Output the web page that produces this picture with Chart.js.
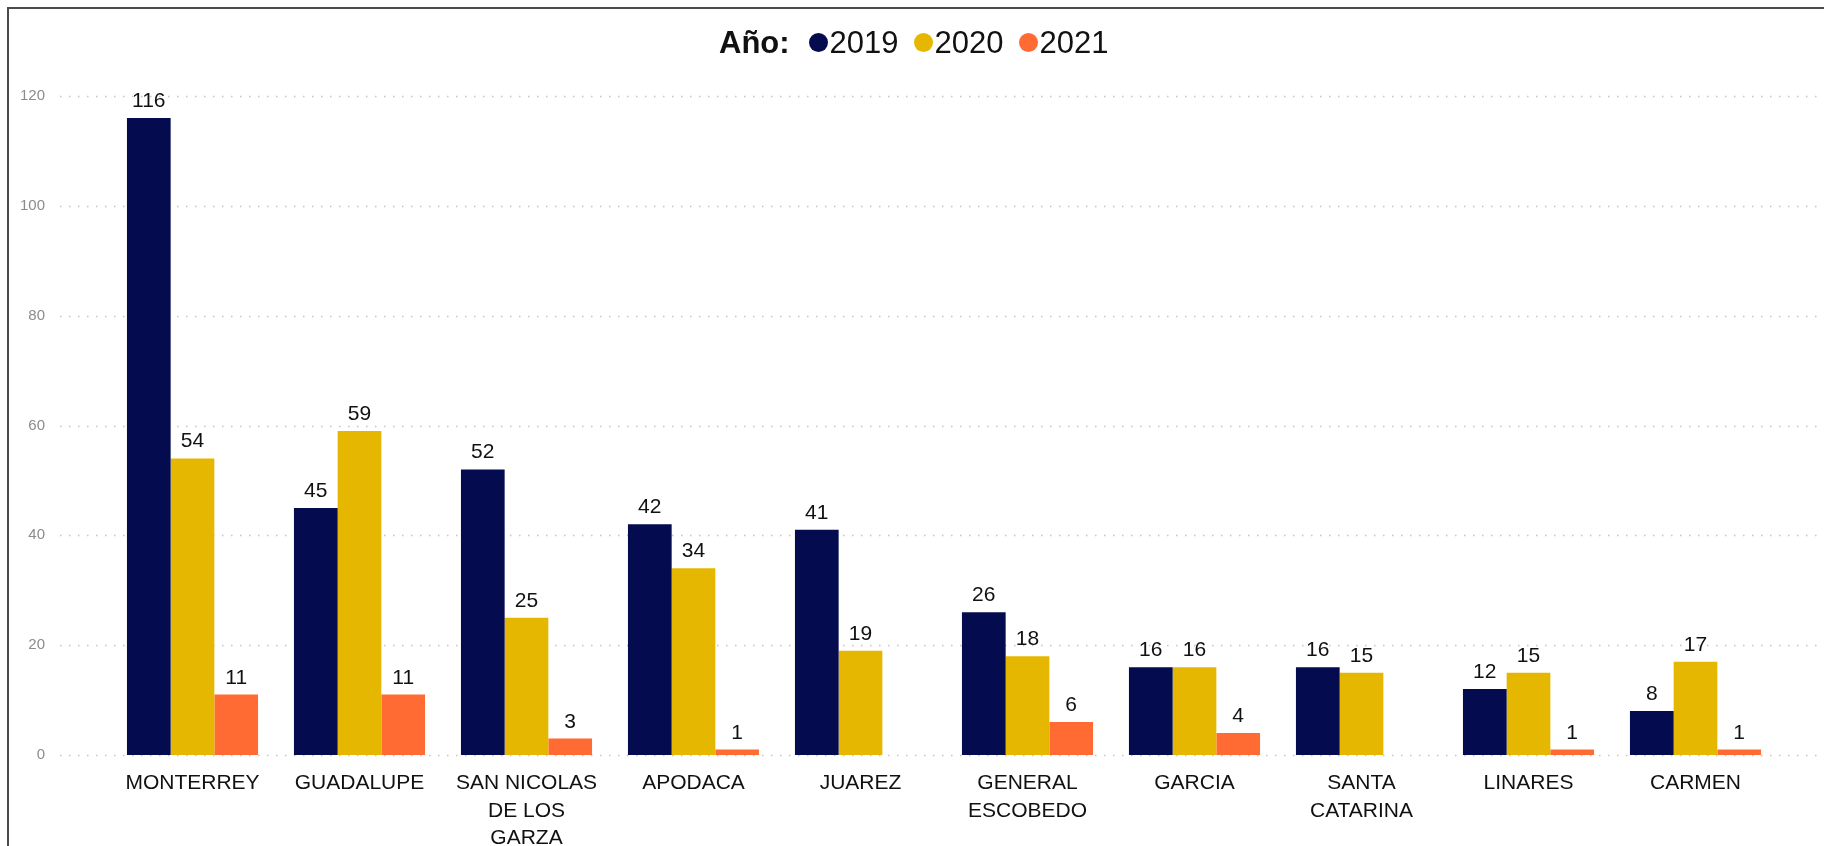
<!DOCTYPE html>
<html>
<head>
<meta charset="utf-8">
<script src="https://cdn.jsdelivr.net/npm/chart.js@4.4.1/dist/chart.umd.min.js"></script>
<style>
  html, body { margin: 0; padding: 0; background: #fff; overflow: hidden; }
  #frame { position: absolute; left: 7px; top: 7px; width: 1840px; height: 860px;
           border-top: 2px solid #4a4a4a; border-left: 2px solid #4a4a4a; }
  #wrap { position: absolute; left: 0; top: 0; width: 1824px; height: 846px; }
  #legend { position: absolute; left: 719px; top: 27px; height: 31px; display: flex; align-items: center;
            font-family: "Liberation Sans", Arial, sans-serif; font-size: 31px; color: #111; white-space: nowrap; }
  #legend b { margin-right: 19px; }
  #legend .dot { display: inline-block; width: 19px; height: 19px; border-radius: 50%; margin-right: 2px; }
  #legend .txt { margin-right: 15px; }
</style>
</head>
<body>
<div id="frame"></div>
<div id="wrap"><canvas id="barChart"></canvas></div>
<div id="legend"></div>
<script>
var municipios = ['MONTERREY', 'GUADALUPE', ['SAN NICOLAS', 'DE LOS', 'GARZA'], 'APODACA', 'JUAREZ',
    ['GENERAL', 'ESCOBEDO'], 'GARCIA', ['SANTA', 'CATARINA'], 'LINARES', 'CARMEN'];
var anios = ['2019', '2020', '2021'];
var datos2019 = [116, 45, 52, 42, 41, 26, 16, 16, 12, 8];
var datos2020 = [54, 59, 25, 34, 19, 18, 16, 15, 15, 17];
var datos2021 = [11, 11, 3, 1, null, 6, 4, null, 1, 1];
var colores = ['#040b4f', '#e6b700', '#ff6b33'];
var yTicks = [0, 20, 40, 60, 80, 100, 120];

var FONT = '"Liberation Sans", Arial, sans-serif';

// legend (title inline with items)
var legendHtml = '<b>Año:</b>';
anios.forEach(function (a, i) {
    legendHtml += '<span class="dot" style="background:' + colores[i] + '"></span><span class="txt">' + a + '</span>';
});
document.getElementById('legend').innerHTML = legendHtml;

// dotted gridlines, running wider than the plot area
var dottedGrid = {
    id: 'dottedGrid',
    beforeDatasetsDraw: function (chart) {
        var ctx = chart.ctx, y = chart.scales.y;
        ctx.save();
        ctx.strokeStyle = '#c4c4c4';
        ctx.lineWidth = 1.5;
        ctx.setLineDash([1.5, 7.5]);
        y.ticks.forEach(function (t) {
            var py = Math.round(y.getPixelForValue(t.value)) + 0.5;
            ctx.beginPath();
            ctx.moveTo(60, py);
            ctx.lineTo(chart.width, py);
            ctx.stroke();
        });
        ctx.restore();
    }
};

// value labels on top of the bars
var valueLabels = {
    id: 'valueLabels',
    afterDatasetsDraw: function (chart) {
        var ctx = chart.ctx;
        ctx.save();
        ctx.font = '21px ' + FONT;
        ctx.fillStyle = '#111';
        ctx.textAlign = 'center';
        ctx.textBaseline = 'alphabetic';
        chart.data.datasets.forEach(function (ds, i) {
            chart.getDatasetMeta(i).data.forEach(function (bar, j) {
                var v = ds.data[j];
                if (!v) return;
                ctx.fillText(v, bar.x, bar.y - 11);
            });
        });
        ctx.restore();
    }
};

new Chart(document.getElementById('barChart').getContext('2d'), {
    type: 'bar',
    data: {
        labels: municipios,
        datasets: [
            { label: anios[0], data: datos2019, backgroundColor: colores[0] },
            { label: anios[1], data: datos2020, backgroundColor: colores[1] },
            { label: anios[2], data: datos2021, backgroundColor: colores[2] }
        ]
    },
    options: {
        responsive: true,
        maintainAspectRatio: false,
        animation: false,
        layout: { padding: { top: 96, right: 45, bottom: 0, left: 0 } },
        datasets: { bar: { categoryPercentage: 0.785, barPercentage: 1 } },
        plugins: { legend: { display: false }, tooltip: { enabled: false } },
        scales: {
            x: {
                grid: { display: false, drawTicks: false },
                border: { display: false },
                ticks: {
                    autoSkip: false, maxRotation: 0, minRotation: 0, padding: 15,
                    color: '#111', font: { family: FONT, size: 21, lineHeight: 1.3 }
                },
                afterFit: function (s) { s.height = 91; }
            },
            y: {
                min: 0, max: 120,
                afterBuildTicks: function (s) { s.ticks = yTicks.map(function (v) { return { value: v }; }); },
                grid: { display: false, drawTicks: false },
                border: { display: false },
                ticks: { padding: 64, color: '#8c8c8c', font: { family: FONT, size: 15 } },
                afterFit: function (s) { s.width = 109; }
            }
        }
    },
    plugins: [dottedGrid, valueLabels]
});
</script>
</body>
</html>
